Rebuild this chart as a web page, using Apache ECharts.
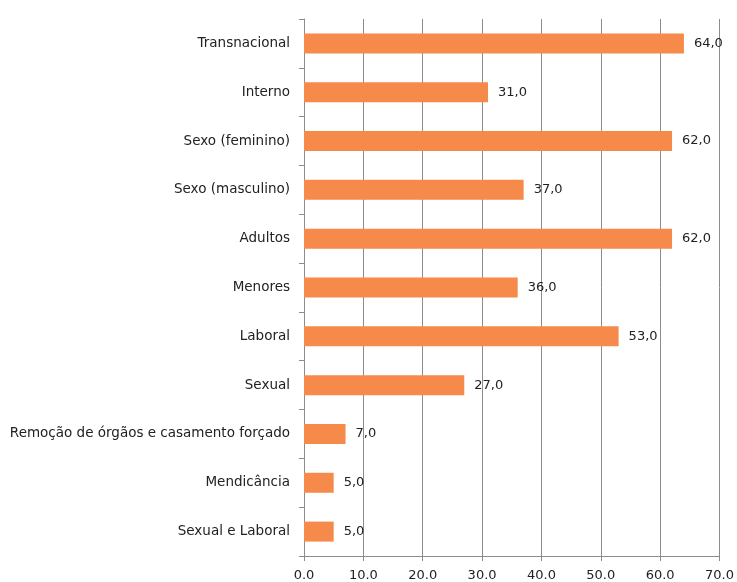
<!DOCTYPE html>
<html>
<head>
<meta charset="utf-8" />
<title>Tráfico de pessoas</title>
<script src="https://cdn.jsdelivr.net/npm/echarts@6/dist/echarts.min.js"></script>
<style>
  body { margin: 0; background: #fff; }
  #chart { width: 737px; height: 582px; }
</style>
</head>
<body>
<div id="chart"></div>
<script type="text/javascript">
var categories = ['Transnacional', 'Interno', 'Sexo (feminino)', 'Sexo (masculino)', 'Adultos', 'Menores',
  'Laboral', 'Sexual', 'Remoção de órgãos e casamento forçado', 'Mendicância', 'Sexual e Laboral'];
var values = [64, 31, 62, 37, 62, 36, 53, 27, 7, 5, 5];

var chart = echarts.init(document.getElementById('chart'));
var option = {
  animation: false,
  textStyle: { fontFamily: 'DejaVu Sans' },
  grid: { left: 304, right: 17, top: 19, bottom: 26, containLabel: false },
  xAxis: {
    type: 'value',
    min: 0,
    max: 70,
    interval: 10,
    axisLine: { show: true, lineStyle: { color: '#8c8c8c' } },
    axisTick: { show: true, length: 5, lineStyle: { color: '#8c8c8c' } },
    splitLine: { lineStyle: { color: '#8c8c8c' } },
    axisLabel: {
      color: '#222', fontSize: 13, margin: 13,
      formatter: function (v) { return v.toFixed(1); }
    }
  },
  yAxis: {
    type: 'category',
    inverse: true,
    data: categories,
    axisLine: { lineStyle: { color: '#8c8c8c' } },
    axisTick: { show: true, length: 5, lineStyle: { color: '#8c8c8c' } },
    axisLabel: { color: '#222', fontSize: 13.5, margin: 14 }
  },
  series: [{
    type: 'bar',
    data: values,
    barWidth: 20,
    itemStyle: { color: '#F68A4A' },
    label: {
      show: true,
      position: 'right',
      distance: 10,
      color: '#222',
      fontSize: 13,
      formatter: function (p) { return p.value.toFixed(1).replace('.', ','); }
    }
  }]
};
chart.setOption(option);
</script>
</body>
</html>
